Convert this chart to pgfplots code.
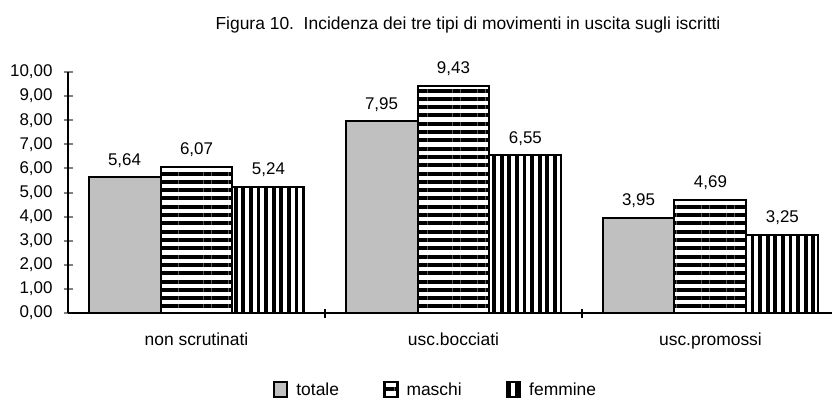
\documentclass[border=0pt]{standalone}
\usepackage{fontspec}
\setmainfont{Liberation Sans}
\usepackage{pgfplots}
\pgfplotsset{compat=1.18}
\usetikzlibrary{patterns.meta}

\definecolor{barsgray}{HTML}{C0C0C0}

\begin{document}
\fontsize{17.5}{21}\selectfont
\begin{tikzpicture}[x=1bp,y=1bp]
\path[use as bounding box] (0,0) rectangle (832,406);
\begin{axis}[
  at={(68bp,93bp)}, anchor=south west,
  scale only axis,
  width=764bp, height=241bp,
  xmin=-0.5, xmax=2.473,
  ymin=0, ymax=10,
  axis lines*=left,
  axis line style={line width=2bp},
  ybar=0pt, bar width=0.28,
  xtick={0,1,2},
  xticklabels={non scrutinati,usc.bocciati,usc.promossi},
  major x tick style={draw=none},
  extra x ticks={0.5,1.5},
  extra x tick labels={},
  extra x tick style={major x tick style={draw=black, line width=2bp}},
  ytick={0,1,...,10},
  major tick length=9bp,
  tick align=center,
  y tick style={line width=2bp},
  yticklabel style={font=\fontsize{17}{20}\selectfont, xshift=-5bp,
    /pgf/number format/.cd, fixed, fixed zerofill, precision=2, use comma,
    assume math mode=true},
  xticklabel style={font=\fontsize{17.5}{21}\selectfont, yshift=-9bp},
  nodes near coords,
  every node near coord/.append style={
    font=\fontsize{17}{20}\selectfont, yshift=3bp,
    /pgf/number format/.cd, fixed, fixed zerofill, precision=2, use comma,
    assume math mode=true},
  legend columns=3,
  legend style={draw=none, at={(0.481,-0.320)}, anchor=center,
    font=\fontsize{17.5}{21}\selectfont,
    /tikz/every odd column/.append style={column sep=6bp},
    /tikz/every even column/.append style={column sep=42bp}},
  legend image code/.code={
    \draw[#1, line width=2.5bp] (0bp,-7bp) rectangle (13bp,8bp);
  },
]
\addplot[draw=black, line width=2bp, fill=barsgray]
  coordinates {(0,5.64) (1,7.95) (2,3.95)};
\addplot[draw=black, line width=2bp, fill=white,
  postaction={pattern={Lines[angle=0,distance=8.3bp,line width=4bp]}}]
  coordinates {(0,6.07) (1,9.43) (2,4.69)};
\addplot[draw=black, line width=2bp, fill=white,
  postaction={pattern={Lines[angle=90,distance=7.6bp,line width=3.8bp]}}]
  coordinates {(0,5.24) (1,6.55) (2,3.25)};
\legend{totale,maschi,femmine}
\end{axis}
\node at (468,381) {Figura 10.\ \ Incidenza dei tre tipi di movimenti in uscita sugli iscritti};
\end{tikzpicture}
\end{document}
